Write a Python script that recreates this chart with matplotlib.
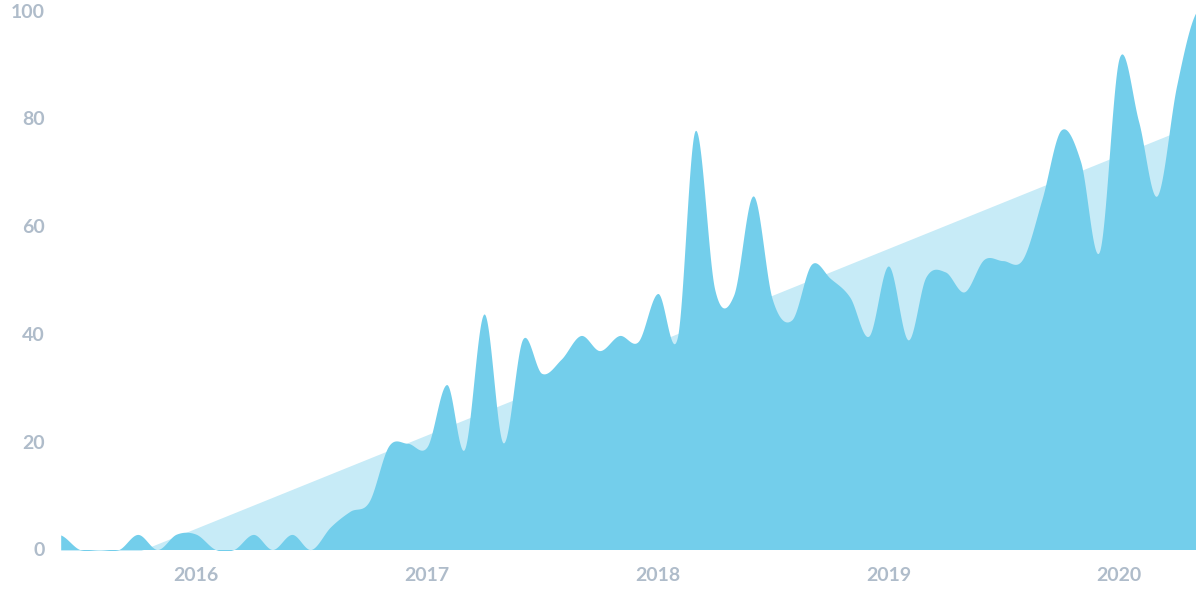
import matplotlib
matplotlib.use("Agg")
import matplotlib.pyplot as plt
import matplotlib.dates as mdates
import numpy as np
import pandas as pd

# ---- data ----
month_starts = pd.date_range("2015-06-01", "2020-05-01", freq="MS")
values = [
    2.7, 0, 0, 0, 2.8, 0, 2.85, 2.85, 0, 0,          # 2015-06 .. 2016-03
    2.8, 0, 2.8, 0, 4.2, 7.1, 8.9, 19.2, 19.7,       # 2016-04 .. 2016-12
    19.1, 30.6, 18.6, 43.7, 19.8, 39.0, 32.7, 35.3,  # 2017-01 .. 2017-08
    39.7, 36.9, 39.7, 38.6,                          # 2017-09 .. 2017-12
    47.5, 39.4, 77.7, 48.3, 47.2, 65.6, 46.5, 42.6,  # 2018-01 .. 2018-08
    52.9, 50.3, 46.8, 39.6,                          # 2018-09 .. 2018-12
    52.6, 38.9, 50.5, 51.5, 47.8, 53.8, 53.6, 53.8,  # 2019-01 .. 2019-08
    65.0, 77.8, 72.0, 55.3,                          # 2019-09 .. 2019-12
    91.1, 79.4, 65.6, 86.0, 99.5,                    # 2020-01 .. 2020-05
]
trend_dates = ["2015-06-01", "2020-05-01"]
trend_values = [-6.2, 78.9]
year_labels = ["2016", "2017", "2018", "2019", "2020"]
y_ticks = [0, 20, 40, 60, 80, 100]

DARK = "#73CEEB"
LIGHT = "#C7EBF7"
LABEL = "#AFBCCA"


def catmull_rom(x, y, n=40):
    x = np.asarray(x, float)
    y = np.asarray(y, float)
    m = np.empty_like(y)
    m[1:-1] = (y[2:] - y[:-2]) / (x[2:] - x[:-2])
    m[0] = (y[1] - y[0]) / (x[1] - x[0]) * 0.5
    m[-1] = (y[-1] - y[-2]) / (x[-1] - x[-2]) * 0.5
    xs, ys = [], []
    for i in range(len(x) - 1):
        h = x[i + 1] - x[i]
        t = np.linspace(0, 1, n, endpoint=False)
        h00 = 2 * t**3 - 3 * t**2 + 1
        h10 = t**3 - 2 * t**2 + t
        h01 = -2 * t**3 + 3 * t**2
        h11 = t**3 - t**2
        xs.append(x[i] + t * h)
        ys.append(h00 * y[i] + h10 * h * m[i] + h01 * y[i + 1] + h11 * h * m[i + 1])
    xs.append([x[-1]])
    ys.append([y[-1]])
    return np.concatenate(xs), np.concatenate(ys)


xnum = mdates.date2num(month_starts.to_pydatetime())
xs, ys = catmull_rom(xnum, values)
tx = mdates.date2num(pd.to_datetime(trend_dates).to_pydatetime())

plt.rcParams["font.family"] = ["Lato", "DejaVu Sans"]
fig = plt.figure(figsize=(12, 6), dpi=100)
ax = fig.add_axes([60.7 / 1200, 1 - 549.5 / 600, (1195.5 - 60.7) / 1200, (549.5 - 10.5) / 600])

ax.fill_between(tx, 0, trend_values, color=LIGHT, linewidth=0, zorder=1)
ax.fill_between(xs, 0, ys, color=DARK, linewidth=0, zorder=2)

ax.set_xlim(xnum[0], xnum[-1])
ax.set_ylim(0, 100)

ax.set_yticks(y_ticks)
ax.set_yticklabels([str(v) for v in y_ticks], fontweight="bold")
xt = mdates.date2num([pd.Timestamp(f"{y}-01-01").to_pydatetime() for y in year_labels])
ax.set_xticks(xt)
ax.set_xticklabels(year_labels, fontweight="bold")

ax.tick_params(axis="both", length=0, labelsize=14, labelcolor=LABEL)
ax.tick_params(axis="y", pad=11.5)
ax.tick_params(axis="x", pad=12.5)
for s in ax.spines.values():
    s.set_visible(False)
ax.set_facecolor("white")

fig.savefig("out.png", dpi=100, facecolor="white")
